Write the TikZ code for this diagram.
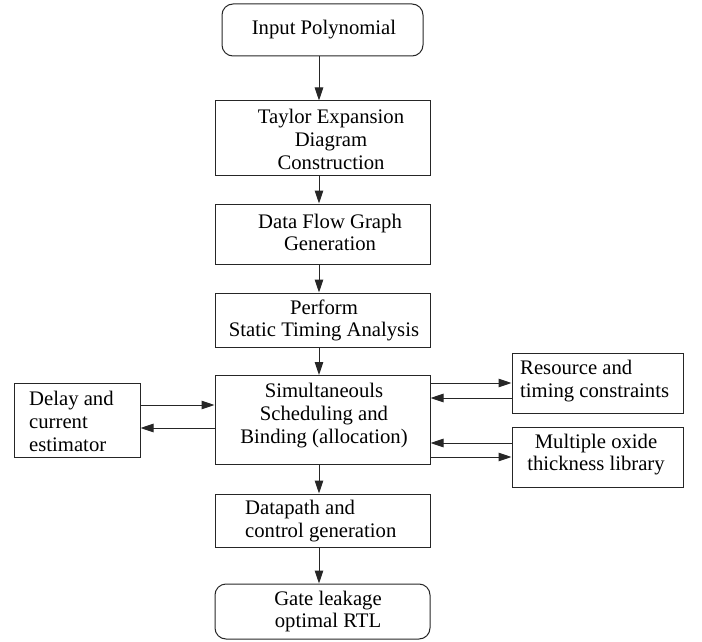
\documentclass[tikz,border=0pt]{standalone}
\usepackage{fontspec}
\setmainfont{Liberation Serif}
\usetikzlibrary{arrows.meta}
\begin{document}
\begin{tikzpicture}[x=1pt,y=-1pt,
  box/.style={draw=black!85,line width=1pt,rectangle,inner sep=0pt},
  rbox/.style={box,rounded corners=11pt},
  txt/.style={inner sep=0pt,font=\fontsize{20.7}{22.7}\selectfont},
  arr/.style={draw=black!85,line width=1pt,-{Triangle[length=13pt,width=8.5pt]}}]
\useasboundingbox (0,0) rectangle (702,642);
% boxes
\node[rbox,minimum width=201pt,minimum height=52pt] (inp) at (322.5,30) {};
\node[box,minimum width=215pt,minimum height=74pt] (tay) at (322.5,138) {};
\node[box,minimum width=215pt,minimum height=60pt] (dfg) at (322.5,234) {};
\node[box,minimum width=215pt,minimum height=54pt] (perf) at (322.5,320) {};
\node[box,minimum width=215pt,minimum height=89pt] (sim) at (322.5,420) {};
\node[box,minimum width=215pt,minimum height=53pt] (dp) at (322.5,520.5) {};
\node[rbox,minimum width=215pt,minimum height=55pt] (gate) at (322.5,611.5) {};
\node[box,minimum width=126pt,minimum height=74pt] (delay) at (77,420) {};
\node[box,minimum width=171pt,minimum height=60pt] (res) at (597.5,383) {};
\node[box,minimum width=171pt,minimum height=60pt] (mult) at (597.5,457) {};
% texts
\node[txt] (tinp) at (324,30) {Input Polynomial};
\node[txt,align=center] (ttay) at (331,139.5) {Taylor Expansion\\Diagram\\Construction};
\node[txt,align=center] (tdfg) at (330,232.5) {Data Flow Graph\\Generation};
\node[txt,align=center] (tperf) at (324,320.5) {Perform\\Static Timing Analysis};
\node[txt,align=center] (tsim) at (324,415.5) {Simultaneouls\\Scheduling and\\Binding (allocation)};
\node[txt,align=left,anchor=west] (tdp) at (245,521) {Datapath and\\control generation};
\node[txt,align=center] (tgate) at (328,611.5) {Gate leakage\\optimal RTL};
\node[txt,align=left,anchor=west] (tdelay) at (29,421.5) {Delay and\\current\\estimator};
\node[txt,align=left,anchor=west] (tres) at (520,381) {Resource and\\timing constraints};
\node[txt,align=center] (tmult) at (596,454.5) {Multiple oxide\\thickness library};
% vertical arrows
\coordinate (ax) at (319,0);
\draw[arr] (inp.south -| ax) -- (tay.north -| ax);
\draw[arr] (tay.south -| ax) -- (dfg.north -| ax);
\draw[arr] (dfg.south -| ax) -- (perf.north -| ax);
\draw[arr] (perf.south -| ax) -- (sim.north -| ax);
\draw[arr] (sim.south -| ax) -- (dp.north -| ax);
\draw[arr] (dp.south -| ax) -- (gate.north -| ax);
% horizontal arrows
\coordinate (y1) at (0,405);
\coordinate (y2) at (0,428);
\coordinate (y3) at (0,383);
\coordinate (y4) at (0,398);
\coordinate (y5) at (0,443);
\coordinate (y6) at (0,457);
\draw[arr] (delay.east |- y1) -- (sim.west |- y1);
\draw[arr] (sim.west |- y2) -- (delay.east |- y2);
\draw[arr] (sim.east |- y3) -- (res.west |- y3);
\draw[arr] (res.west |- y4) -- (sim.east |- y4);
\draw[arr] (mult.west |- y5) -- (sim.east |- y5);
\draw[arr] (sim.east |- y6) -- (mult.west |- y6);
\end{tikzpicture}
\end{document}
